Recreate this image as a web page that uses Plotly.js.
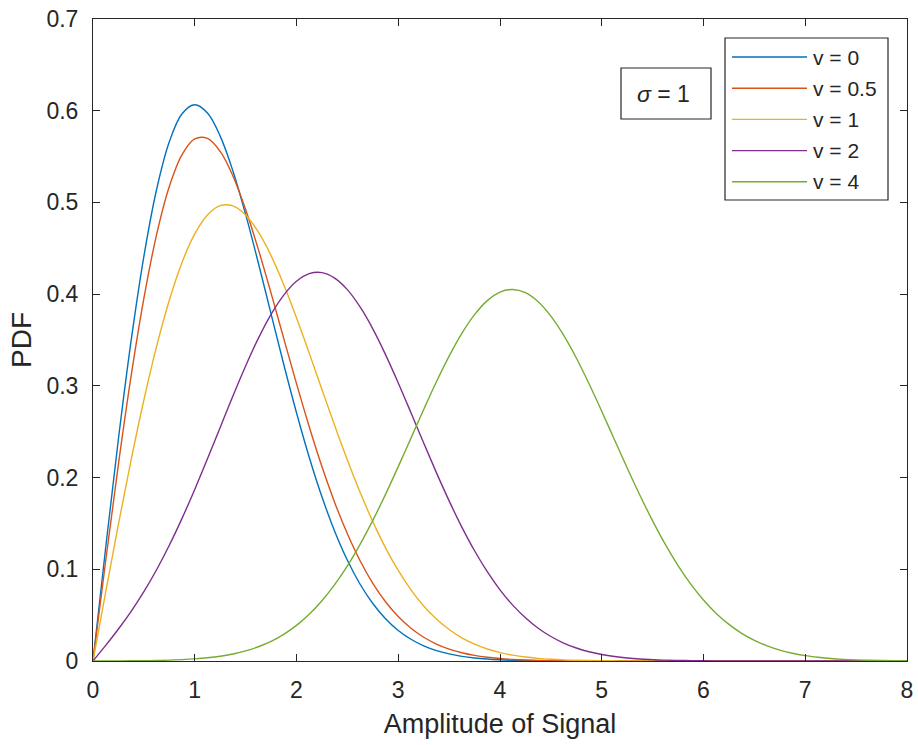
<!DOCTYPE html>
<html>
<head>
<meta charset="utf-8">
<script src="https://cdn.plot.ly/plotly-3.0.1.min.js"></script>
<style>
  html, body { margin: 0; padding: 0; background: #ffffff; }
  #chart { width: 918px; height: 745px; }
</style>
</head>
<body>
<div id="chart"></div>
<script>
// Rician PDF curves, sigma = 1, for several values of v
const amplitude = [0, 0.125, 0.25, 0.375, 0.5, 0.625, 0.75, 0.875, 1, 1.125, 1.25, 1.375, 1.5, 1.625, 1.75, 1.875,
                   2, 2.125, 2.25, 2.375, 2.5, 2.625, 2.75, 2.875, 3, 3.125, 3.25, 3.375, 3.5, 3.625, 3.75, 3.875,
                   4, 4.125, 4.25, 4.375, 4.5, 4.625, 4.75, 4.875, 5, 5.125, 5.25, 5.375, 5.5, 5.625, 5.75, 5.875,
                   6, 6.125, 6.25, 6.375, 6.5, 6.625, 6.75, 6.875, 7, 7.125, 7.25, 7.375, 7.5, 7.625, 7.75, 7.875, 8];

const pdfV0  = [0, 0.1240, 0.2423, 0.3495, 0.4412, 0.5141, 0.5661, 0.5967, 0.6065, 0.5975, 0.5723, 0.5343, 0.4870, 0.4340, 0.3785, 0.3233,
                0.2707, 0.2222, 0.1790, 0.1415, 0.1098, 0.0837, 0.0627, 0.0461, 0.0333, 0.0237, 0.0165, 0.0113, 0.0077, 0.0051, 0.0033, 0.0021,
                0.0013, 0.0008, 0.0005, 0.0003, 0.0002, 0.0001, 0.0001, 0, 0, 0, 0, 0, 0, 0, 0, 0,
                0, 0, 0, 0, 0, 0, 0, 0, 0, 0, 0, 0, 0, 0, 0, 0, 0];
const pdfV05 = [0, 0.1096, 0.2147, 0.3112, 0.3955, 0.4649, 0.5173, 0.5521, 0.5693, 0.5698, 0.5556, 0.5289, 0.4923, 0.4488, 0.4011, 0.3515,
                0.3024, 0.2555, 0.2120, 0.1729, 0.1387, 0.1093, 0.0847, 0.0646, 0.0484, 0.0357, 0.0259, 0.0185, 0.0130, 0.0090, 0.0061, 0.0041,
                0.0027, 0.0017, 0.0011, 0.0007, 0.0004, 0.0003, 0.0001, 0.0001, 0, 0, 0, 0, 0, 0, 0, 0,
                0, 0, 0, 0, 0, 0, 0, 0, 0, 0, 0, 0, 0, 0, 0, 0, 0];
const pdfV1  = [0, 0.0755, 0.1493, 0.2195, 0.2846, 0.3430, 0.3934, 0.4346, 0.4658, 0.4864, 0.4965, 0.4963, 0.4864, 0.4678, 0.4420, 0.4102,
                0.3742, 0.3357, 0.2961, 0.2568, 0.2192, 0.1840, 0.1520, 0.1234, 0.0987, 0.0776, 0.0600, 0.0457, 0.0343, 0.0252, 0.0183, 0.0131,
                0.0092, 0.0064, 0.0043, 0.0029, 0.0019, 0.0012, 0.0008, 0.0005, 0.0003, 0.0002, 0.0001, 0.0001, 0, 0, 0, 0,
                0, 0, 0, 0, 0, 0, 0, 0, 0, 0, 0, 0, 0, 0, 0, 0, 0];
const pdfV2  = [0, 0.0170, 0.0349, 0.0542, 0.0756, 0.0995, 0.1262, 0.1555, 0.1871, 0.2205, 0.2547, 0.2889, 0.3217, 0.3518, 0.3780, 0.3990,
                0.4140, 0.4223, 0.4235, 0.4175, 0.4049, 0.3860, 0.3622, 0.3341, 0.3032, 0.2707, 0.2377, 0.2054, 0.1746, 0.1460, 0.1202, 0.0974,
                0.0776, 0.0609, 0.0471, 0.0357, 0.0267, 0.0196, 0.0142, 0.0101, 0.0071, 0.0049, 0.0033, 0.0022, 0.0015, 0.0009, 0.0006, 0.0004,
                0.0002, 0.0001, 0.0001, 0, 0, 0, 0, 0, 0, 0, 0, 0, 0, 0, 0, 0, 0];
const pdfV4  = [0, 0.0000, 0.0001, 0.0002, 0.0003, 0.0006, 0.0009, 0.0015, 0.0023, 0.0035, 0.0052, 0.0077, 0.0110, 0.0155, 0.0214, 0.0291,
                0.0388, 0.0509, 0.0657, 0.0832, 0.1037, 0.1272, 0.1533, 0.1817, 0.2119, 0.2430, 0.2742, 0.3044, 0.3324, 0.3572, 0.3776, 0.3929,
                0.4022, 0.4051, 0.4016, 0.3918, 0.3761, 0.3553, 0.3304, 0.3023, 0.2723, 0.2413, 0.2105, 0.1808, 0.1528, 0.1271, 0.1040, 0.0838,
                0.0665, 0.0519, 0.0399, 0.0302, 0.0225, 0.0165, 0.0119, 0.0084, 0.0059, 0.0041, 0.0027, 0.0018, 0.0012, 0.0008, 0.0005, 0.0003, 0.0002];

const seriesNames  = ['v = 0', 'v = 0.5', 'v = 1', 'v = 2', 'v = 4'];
const seriesValues = [pdfV0, pdfV05, pdfV1, pdfV2, pdfV4];
const seriesColors = ['#0072BD', '#D95319', '#EDB120', '#7E2F8E', '#77AC30'];
const sigmaLabel = '<i>σ</i> = 1';

const FONT = '"Liberation Sans", Arial, Helvetica, sans-serif';
const INK = '#262626';

// plot area in pixels
const W = 918, H = 745;
const M = { l: 93, r: 11, t: 19, b: 84 };
const plotW = W - M.l - M.r, plotH = H - M.t - M.b;
const px = x => (x - M.l) / plotW;
const py = y => (H - M.b - y) / plotH;

const traces = seriesValues.map((vals, i) => ({
  x: amplitude,
  y: vals,
  type: 'scatter',
  mode: 'lines',
  name: seriesNames[i],
  line: { color: seriesColors[i], width: 1.4, shape: 'spline', smoothing: 1 },
  showlegend: false,
  hoverinfo: 'x+y+name'
}));

// hand-drawn legend box in the upper right
const shapes = [];
const annotations = [];
shapes.push({
  type: 'rect', xref: 'paper', yref: 'paper',
  x0: px(725), x1: px(888), y0: py(200), y1: py(38),
  line: { color: INK, width: 1.2 }, fillcolor: '#ffffff', layer: 'above'
});
seriesNames.forEach((name, i) => {
  const yy = 57 + i * 31.2;
  shapes.push({
    type: 'line', xref: 'paper', yref: 'paper',
    x0: px(732), x1: px(807), y0: py(yy), y1: py(yy),
    line: { color: seriesColors[i], width: 1.4 }, layer: 'above'
  });
  annotations.push({
    xref: 'paper', yref: 'paper', x: px(811), y: py(yy),
    xanchor: 'left', yanchor: 'middle', showarrow: false,
    text: name, font: { family: FONT, size: 21, color: INK }
  });
});

// sigma text box
shapes.push({
  type: 'rect', xref: 'paper', yref: 'paper',
  x0: px(621), x1: px(711), y0: py(119), y1: py(68),
  line: { color: INK, width: 1.2 }, fillcolor: '#ffffff', layer: 'above'
});
annotations.push({
  xref: 'paper', yref: 'paper', x: px(663), y: py(94),
  xanchor: 'center', yanchor: 'middle', showarrow: false,
  text: sigmaLabel, font: { family: FONT, size: 23, color: INK }
});

const axisCommon = {
  ticks: 'inside', ticklen: 7, tickwidth: 1, tickcolor: INK,
  showline: true, linecolor: INK, linewidth: 1, mirror: 'ticks',
  showgrid: false, zeroline: false,
  tickfont: { family: FONT, size: 23, color: INK },
  fixedrange: true
};

const layout = {
  width: W, height: H,
  margin: { l: M.l, r: M.r, t: M.t, b: M.b, pad: 0 },
  paper_bgcolor: '#ffffff', plot_bgcolor: '#ffffff',
  font: { family: FONT, color: INK },
  showlegend: false,
  xaxis: Object.assign({}, axisCommon, {
    range: [0, 8], dtick: 1, tick0: 0,
    ticklabelstandoff: 8,
    title: { text: 'Amplitude of Signal', font: { family: FONT, size: 27, color: INK }, standoff: 12 }
  }),
  yaxis: Object.assign({}, axisCommon, {
    range: [0, 0.7], dtick: 0.1, tick0: 0,
    ticklabelstandoff: 9,
    title: { text: 'PDF', font: { family: FONT, size: 28, color: INK }, standoff: 6 }
  }),
  shapes: shapes,
  annotations: annotations
};

Plotly.newPlot('chart', traces, layout, { displayModeBar: false, staticPlot: true });
</script>
</body>
</html>
